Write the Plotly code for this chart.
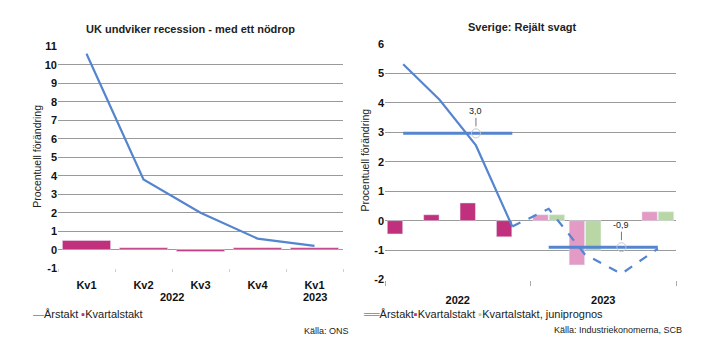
import plotly.graph_objects as go

# ---------------- Data ----------------
# Left chart: UK
uk_quarters = ["Kv1", "Kv2", "Kv3", "Kv4", "Kv1"]
uk_years = ["2022", "2022", "2022", "2022", "2023"]
uk_arstakt = [10.6, 3.8, 2.0, 0.6, 0.2]
uk_kvartal = [0.5, 0.1, -0.1, 0.1, 0.1]
uk_yticks = list(range(-1, 12))

# Right chart: Sverige
se_quarters = ["Kv1", "Kv2", "Kv3", "Kv4", "Kv1", "Kv2", "Kv3", "Kv4"]
se_years = ["2022"] * 4 + ["2023"] * 4
se_arstakt_utfall = [5.3, 4.1, 2.55, -0.2, None, None, None, None]
se_arstakt_prognos = [None, None, None, -0.2, 0.4, -1.15, -1.8, -0.95]
se_kvartal = [-0.45, 0.2, 0.6, -0.55, 0.2, -1.5, None, 0.3]
se_kvartal_juni = [None, None, None, None, 0.2, -1.0, None, 0.3]
se_year_avg = {"2022": 2.96, "2023": -0.9}
se_avg_label_quarter = "Kv3"
se_yticks = list(range(-2, 7))

# ---------------- Styles ----------------
BLUE = "#5585CF"
MAGENTA = "#C0307C"
PINK = "#E39BC5"
GREEN = "#B8D7A5"
GRID = "#9a9a9a"
FONT = "Liberation Sans, Arial, sans-serif"
W, H = 709, 352


def px(x):
    return x / W


def py(y):
    return 1 - y / H


fig = go.Figure()

# ---- Left chart ----
ux = list(range(len(uk_quarters)))
fig.add_trace(go.Bar(x=ux, y=uk_kvartal, name="Kvartalstakt", marker_color=MAGENTA,
                     xaxis="x", yaxis="y"))
fig.add_trace(go.Scatter(x=ux, y=uk_arstakt, name="Årstakt", mode="lines",
                         line=dict(color=BLUE, width=2.2), xaxis="x", yaxis="y"))

# ---- Right chart ----
sx = list(range(len(se_quarters)))
kv_colors = [MAGENTA if y == "2022" else PINK for y in se_years]
fig.add_trace(go.Bar(x=sx, y=se_kvartal, name="Kvartalstakt", marker_color=kv_colors,
                     xaxis="x2", yaxis="y2"))
fig.add_trace(go.Bar(x=sx, y=se_kvartal_juni, name="Kvartalstakt, juniprognos",
                     marker_color=GREEN, xaxis="x2", yaxis="y2"))
fig.add_trace(go.Scatter(x=sx, y=se_arstakt_utfall, name="Årstakt", mode="lines",
                         line=dict(color=BLUE, width=2.2), xaxis="x2", yaxis="y2"))
fig.add_trace(go.Scatter(x=sx, y=se_arstakt_prognos, name="Årstakt prognos", mode="lines",
                         line=dict(color=BLUE, width=2.2, dash="dash"), xaxis="x2",
                         yaxis="y2"))

annotations = []
for yr, avg in se_year_avg.items():
    idx = [i for i, y in enumerate(se_years) if y == yr]
    fig.add_trace(go.Scatter(x=idx, y=[avg] * len(idx), mode="lines",
                             line=dict(color=BLUE, width=3), xaxis="x2", yaxis="y2",
                             hoverinfo="skip"))
    li = [i for i in idx if se_quarters[i] == se_avg_label_quarter][0]
    fig.add_trace(go.Scatter(x=[li], y=[avg], mode="markers",
                             marker=dict(symbol="circle-open", size=9, color="#c8c8c8",
                                         line=dict(width=1)),
                             xaxis="x2", yaxis="y2"))
    annotations.append(dict(x=li, y=avg, xref="x2", yref="y2",
                            text=f"{avg:.1f}".replace(".", ","), showarrow=True,
                            arrowhead=0, arrowwidth=1, arrowcolor="#777", ax=0, ay=-22,
                            standoff=7, font=dict(size=9, color="#222", family=FONT)))


def year_centers(years):
    out = {}
    for i, y in enumerate(years):
        out.setdefault(y, []).append(i)
    return {y: sum(v) / len(v) for y, v in out.items()}


for y, c in year_centers(uk_years).items():
    annotations.append(dict(x=c, y=py(301), xref="x", yref="paper", text=f"<b>{y}</b>",
                            yanchor="middle", xanchor="center", showarrow=False,
                            font=dict(size=11, color="#111", family=FONT)))

txt = dict(color="#222", family=FONT)
annotations += [
    dict(x=px(190), y=py(24), xref="paper", yref="paper", xanchor="center",
         yanchor="middle", text="<b>UK undviker recession - med ett nödrop</b>",
         showarrow=False, font=dict(size=11, **txt)),
    dict(x=px(522), y=py(22), xref="paper", yref="paper", xanchor="center",
         yanchor="middle", text="<b>Sverige: Rejält svagt</b>", showarrow=False,
         font=dict(size=11, **txt)),
    dict(x=px(37), y=py(156), xref="paper", yref="paper", xanchor="center",
         yanchor="middle", text="Procentuell förändring", textangle=-90,
         showarrow=False, font=dict(size=10.5, **txt)),
    dict(x=px(365), y=py(160), xref="paper", yref="paper", xanchor="center",
         yanchor="middle", text="Procentuell förändring", textangle=-90,
         showarrow=False, font=dict(size=10.5, **txt)),
    dict(x=px(351), y=py(336), xref="paper", yref="paper", xanchor="right",
         yanchor="middle", text="Källa: ONS", showarrow=False, font=dict(size=9, **txt)),
    dict(x=px(684), y=py(335), xref="paper", yref="paper", xanchor="right",
         yanchor="middle", text="Källa: Industriekonomerna, SCB", showarrow=False,
         font=dict(size=9, **txt)),
    # legends
    dict(x=px(31), y=py(319), xref="paper", yref="paper", xanchor="left",
         yanchor="middle", showarrow=False, font=dict(size=11, **txt),
         text=(f"<span style='color:{BLUE}'>—</span>Årstakt "
               f"<span style='color:{MAGENTA}'>▪</span>Kvartalstakt")),
    dict(x=px(361), y=py(319), xref="paper", yref="paper", xanchor="left",
         yanchor="middle", showarrow=False, font=dict(size=11, **txt),
         text=(f"<span style='color:{BLUE}'>══</span>Årstakt"
               f"<span style='color:{MAGENTA}'>▪</span>Kvartalstakt "
               f"<span style='color:{GREEN}'>▪</span>Kvartalstakt, juniprognos")),
]

tickfont = dict(size=11, color="#111", family=FONT)


def ycfg(ticks):
    return dict(showgrid=True, gridcolor=GRID, gridwidth=1, zeroline=False,
                tickmode="array", tickvals=ticks,
                ticktext=[f"<b>{t}</b>" for t in ticks],
                tickfont=tickfont, ticks="", showline=False)


se_centers = year_centers(se_years)

fig.update_layout(
    width=W, height=H, margin=dict(l=0, r=0, t=0, b=0),
    paper_bgcolor="white", plot_bgcolor="white",
    font=dict(family=FONT, color="#222"),
    barmode="group", bargap=0.1, bargroupgap=0.06,
    showlegend=False,
    xaxis=dict(domain=[px(58), px(343)], range=[-0.5, len(ux) - 0.5],
               tickmode="array", tickvals=ux,
               ticktext=[f"<b>{q}</b>" for q in uk_quarters], tickfont=tickfont,
               showgrid=False, zeroline=False, ticks="", ticklabelstandoff=9,
               minor=dict(ticks="outside", tick0=-0.5, dtick=1, ticklen=3,
                          tickcolor="#d0d0d0", showgrid=False)),
    yaxis=dict(domain=[py(271.4), py(41.7)], range=[-1, 11], anchor="x", **ycfg(uk_yticks)),
    xaxis2=dict(domain=[px(385), px(676)], range=[-0.5, len(sx) - 0.5],
                tickmode="array", tickvals=list(se_centers.values()),
                ticktext=[f"<b>{y}</b>" for y in se_centers.keys()],
                tickfont=tickfont, showgrid=False, zeroline=False, ticks="",
                ticklabelstandoff=12, anchor="y2",
                minor=dict(ticks="outside", tick0=-0.5, dtick=4, ticklen=5,
                           tickcolor="#aaaaaa", showgrid=False)),
    yaxis2=dict(domain=[py(283.3), py(39)], range=[-2, 6], anchor="x2", **ycfg(se_yticks)),
    annotations=annotations,
)

fig.write_html("out.html")
